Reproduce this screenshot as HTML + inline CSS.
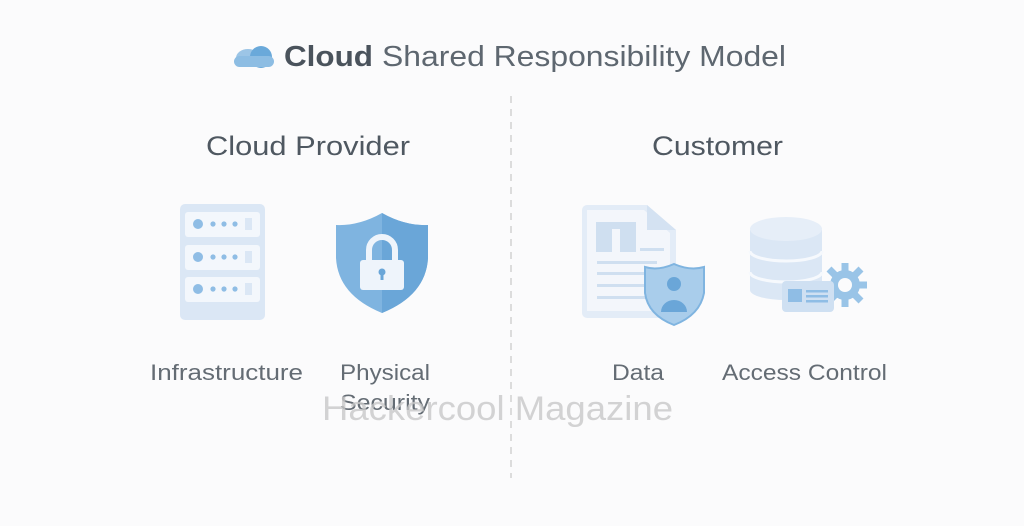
<!DOCTYPE html>
<html><head><meta charset="utf-8"><style>html,body{margin:0;padding:0;background:#fbfbfc}svg{display:block}</style></head>
<body>
<svg width="1024" height="526" viewBox="0 0 1024 526" xmlns="http://www.w3.org/2000/svg" font-family="Liberation Sans, sans-serif">
<rect width="1024" height="526" fill="#fbfbfc"/>
<!-- title -->
<ellipse cx="248" cy="58" rx="12" ry="9" fill="#9cc5e6"/>
<circle cx="261" cy="57" r="11" fill="#6aa9da"/>
<rect x="234" y="56" width="40" height="11" rx="5.5" fill="#8dbde3"/>
<text x="284" y="66" font-size="29" fill="#4a535c" font-weight="bold" textLength="89" lengthAdjust="spacingAndGlyphs">Cloud</text>
<text x="382" y="66" font-size="29" fill="#5e6770" textLength="404" lengthAdjust="spacingAndGlyphs">Shared Responsibility Model</text>
<!-- divider -->
<line x1="511" y1="96" x2="511" y2="478" stroke="#dcdcdc" stroke-width="2" stroke-dasharray="7 6"/>
<!-- headings -->
<text x="206" y="155" font-size="27" fill="#4f5861" textLength="204" lengthAdjust="spacingAndGlyphs">Cloud Provider</text>
<text x="652" y="155" font-size="27" fill="#4f5861" textLength="131" lengthAdjust="spacingAndGlyphs">Customer</text>
<!-- server -->
<rect x="180" y="204" width="85" height="116" rx="5" fill="#dbe7f5"/>
<g fill="#f3f7fc">
<rect x="185" y="212" width="75" height="25" rx="3"/>
<rect x="185" y="245" width="75" height="25" rx="3"/>
<rect x="185" y="277" width="75" height="25" rx="3"/>
</g>
<g fill="#8fbde5">
<circle cx="198" cy="224" r="5"/><circle cx="213" cy="224" r="2.6"/><circle cx="224" cy="224" r="2.6"/><circle cx="235" cy="224" r="2.6"/>
<circle cx="198" cy="257" r="5"/><circle cx="213" cy="257" r="2.6"/><circle cx="224" cy="257" r="2.6"/><circle cx="235" cy="257" r="2.6"/>
<circle cx="198" cy="289" r="5"/><circle cx="213" cy="289" r="2.6"/><circle cx="224" cy="289" r="2.6"/><circle cx="235" cy="289" r="2.6"/>
</g>
<g fill="#dbe7f5"><rect x="245" y="218" width="7" height="12"/><rect x="245" y="251" width="7" height="12"/><rect x="245" y="283" width="7" height="12"/></g>
<!-- shield -->
<path d="M382 213 Q405 226 428 225 L428 258 Q426 295 382 313 Q338 295 336 258 L336 225 Q359 226 382 213 Z" fill="#7fb4e0"/>
<path d="M382 213 Q405 226 428 225 L428 258 Q426 295 382 313 Z" fill="#6aa6d8"/>
<path d="M369 262 v-12 a13 13 0 0 1 26 0 v12" fill="none" stroke="#eef4fb" stroke-width="6"/>
<rect x="360" y="260" width="44" height="30" rx="3" fill="#eef4fb"/>
<circle cx="382" cy="272" r="3.5" fill="#6aa6d8"/><rect x="380.5" y="273" width="3" height="7" fill="#6aa6d8"/>
<!-- document -->
<path d="M582 210 a5 5 0 0 1 5 -5 h60 l29 25 v83 a5 5 0 0 1 -5 5 h-84 a5 5 0 0 1 -5 -5 Z" fill="#e3ecf7"/>
<path d="M587 210 h57 l26 23 v78 h-83 Z" fill="#f3f6fb"/>
<path d="M647 205 v25 h29 Z" fill="#d4e2f2"/>
<rect x="596" y="222" width="40" height="30" fill="#cfdff0"/>
<rect x="612" y="229" width="8" height="23" fill="#f3f6fb"/>
<g fill="#cfdff0"><rect x="640" y="248" width="24" height="3"/><rect x="597" y="261" width="60" height="3"/><rect x="597" y="272" width="60" height="3"/><rect x="597" y="284" width="55" height="3"/><rect x="597" y="296" width="50" height="3"/></g>
<path d="M674 264 Q690 271 704 267 L704 293 Q700 315 674 325 Q648 315 645 293 L645 267 Q658 271 674 264 Z" fill="#a9cdeb" stroke="#7fb4e0" stroke-width="2"/>
<circle cx="674" cy="284" r="7" fill="#6aa6d8"/>
<path d="M661 312 a13 12 0 0 1 26 0 Z" fill="#6aa6d8"/>
<!-- database -->
<path d="M750 230 v60 a36 10 0 0 0 72 0 v-60 Z" fill="#dbe7f5"/>
<ellipse cx="786" cy="229" rx="36" ry="12" fill="#e6eef8"/>
<path d="M750 251 a36 10 0 0 0 72 0 M750 272 a36 10 0 0 0 72 0" fill="none" stroke="#f6f9fd" stroke-width="3"/>
<!-- gear -->
<g fill="#99c4e7"><circle cx="845" cy="285" r="15"/>
<g stroke="#99c4e7" stroke-width="7"><line x1="845" y1="263" x2="845" y2="307"/><line x1="823" y1="285" x2="867" y2="285"/><line x1="829" y1="269" x2="861" y2="301"/><line x1="861" y1="269" x2="829" y2="301"/></g>
<circle cx="845" cy="285" r="7" fill="#fbfbfc"/></g>
<rect x="782" y="281" width="52" height="31" rx="4" fill="#cfe0f2"/>
<rect x="788" y="289" width="14" height="13" fill="#8fbde5"/>
<g fill="#8fbde5"><rect x="806" y="290" width="22" height="2.5"/><rect x="806" y="295" width="22" height="2.5"/><rect x="806" y="300" width="22" height="2.5"/></g>
<!-- labels -->
<g font-size="22" fill="#646c74">
<text x="150" y="380" textLength="153" lengthAdjust="spacingAndGlyphs">Infrastructure</text>
<text x="340" y="380" textLength="90" lengthAdjust="spacingAndGlyphs">Physical</text>
<text x="340" y="410" textLength="90" lengthAdjust="spacingAndGlyphs">Security</text>
<text x="612" y="380" textLength="52" lengthAdjust="spacingAndGlyphs">Data</text>
<text x="722" y="380" textLength="165" lengthAdjust="spacingAndGlyphs">Access Control</text>
</g>
<text x="322" y="420" font-size="34" fill="#c8c8c8" fill-opacity="0.8" textLength="351" lengthAdjust="spacingAndGlyphs">Hackercool Magazine</text>
</svg>
</body></html>
